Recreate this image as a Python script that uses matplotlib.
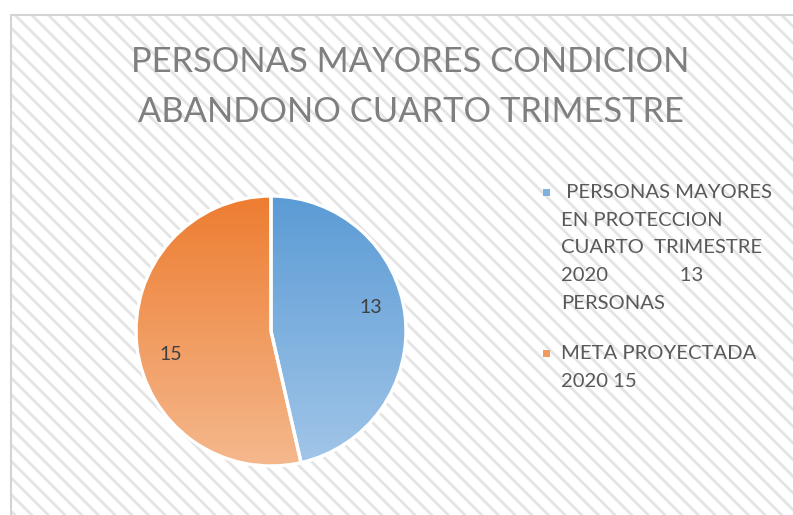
import matplotlib
matplotlib.use("Agg")
import matplotlib.pyplot as plt
import numpy as np
from matplotlib.patches import Rectangle
from matplotlib.colors import LinearSegmentedColormap

# ---- data ----
title = "PERSONAS MAYORES CONDICION\nABANDONO CUARTO TRIMESTRE"
categories = [" PERSONAS MAYORES\nEN PROTECCION\nCUARTO  TRIMESTRE\n2020              13\nPERSONAS",
              "META PROYECTADA\n2020 15"]
values = [13, 15]
top_colors = ["#5B9BD5", "#ED7D31"]
bottom_colors = ["#A2C6E8", "#F5B88D"]

W, H = 793, 515
fig = plt.figure(figsize=(W / 100, H / 100), dpi=100)
fig.patch.set_facecolor("white")

# background chart area with diagonal pattern
plt.rcParams['hatch.linewidth'] = 2.0
plt.rcParams['hatch.color'] = "#e4e4e4"
bg = Rectangle((11 / W, -0.1), 1.2, 1.1 - 15 / H, transform=fig.transFigure,
               facecolor="white", edgecolor="#e4e4e4", hatch="\\\\",
               linewidth=0, zorder=0)
fig.patches.append(bg)
border = Rectangle((11 / W, -0.1), 1.2, 1.1 - 15 / H, transform=fig.transFigure,
                   facecolor="none", edgecolor="#d4d4d4", linewidth=1.5, zorder=1)
fig.patches.append(border)

FONT = ["Lato", "DejaVu Sans"]

tx = 0.5 * (133 + 688) / W
fig.text(tx, 1 - 62 / H, title.split("\n")[0], ha="center", va="center",
         fontsize=24.8, color="#7f7f7f", family=FONT)
fig.text(tx, 1 - 112 / H, title.split("\n")[1], ha="center", va="center",
         fontsize=24.8, color="#7f7f7f", family=FONT)

# pie
cx, cy, r = 271, 331, 135
ax = fig.add_axes([(cx - r) / W, (H - cy - r) / H, 2 * r / W, 2 * r / H])
ax.set_zorder(3)
total = sum(values)
wedges, texts, autotexts = ax.pie(
    values, startangle=90, counterclock=False, radius=1,
    autopct=lambda p: f"{p * total / 100:.0f}", pctdistance=0.76,
    wedgeprops=dict(edgecolor="white", linewidth=2.4),
    textprops=dict(fontsize=14, color="#404040", family=FONT))
ax.set_xlim(-1.0, 1.0)
ax.set_ylim(-1.0, 1.0)
ax.axis("off")

grad = np.linspace(0, 1, 256).reshape(-1, 1)
for w, tc, bc, t in zip(wedges, top_colors, bottom_colors, autotexts):
    cmap = LinearSegmentedColormap.from_list("g", [tc, bc])
    w.set_facecolor("none")
    w.set_zorder(3)
    im = ax.imshow(grad, cmap=cmap, extent=[-1, 1, -1, 1], origin="upper",
                   aspect="auto", zorder=2)
    im.set_clip_path(w)
    # Excel "best fit" style placement: slightly rotated from the wedge middle
    mid = np.deg2rad(0.5 * (w.theta1 + w.theta2) + 7)
    t.set_position((0.76 * np.cos(mid), 0.76 * np.sin(mid)))
    t.set_zorder(5)

# legend (manual)
leg_tops = [190, 351]
for lab, tc, bc, ytop in zip(categories, top_colors, bottom_colors, leg_tops):
    mid = LinearSegmentedColormap.from_list("g", [tc, bc])(0.5)
    fig.patches.append(Rectangle((543 / W, 1 - (ytop + 6) / H), 7 / W, 7 / H,
                                 transform=fig.transFigure, facecolor=mid,
                                 edgecolor="none", zorder=4))
    fig.text(561 / W, 1 - (ytop - 6) / H, lab, ha="left", va="top", fontsize=14.6,
             color="#595959", family=FONT, linespacing=1.76)

fig.savefig("out.png", dpi=100)
